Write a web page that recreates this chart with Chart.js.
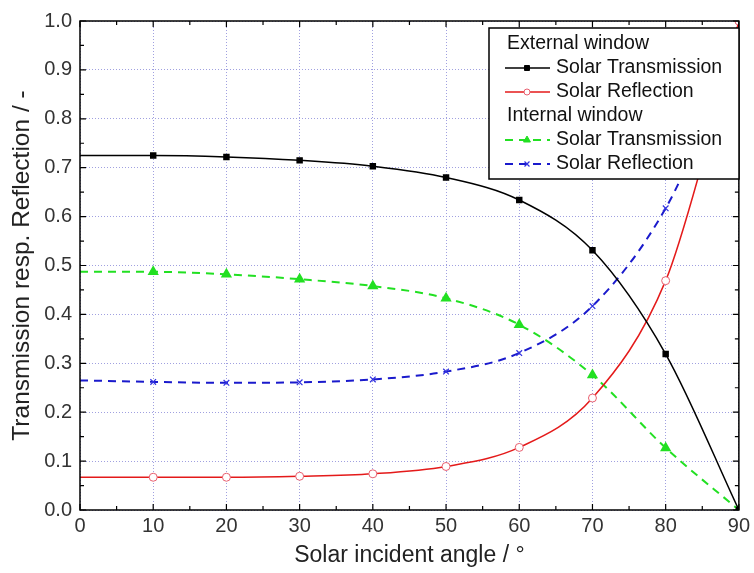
<!DOCTYPE html>
<html>
<head>
<meta charset="utf-8">
<script src="https://cdn.jsdelivr.net/npm/chart.js@4"></script>
<style>
    body { margin: 0; background: #fff; }
    #wrap { width: 754px; height: 573px; }
</style>
</head>
<body>
<div id="wrap"><canvas id="angleChart"></canvas></div>
<script>
const angles = [0, 10, 20, 30, 40, 50, 60, 70, 80, 90];
const anglesFine = [0, 10, 20, 30, 40, 50, 60, 70, 80, 85, 90];
const extTransmission = [0.725, 0.725, 0.722, 0.715, 0.703, 0.680, 0.634, 0.531, 0.319, 0.0];
const extReflection = [0.067, 0.067, 0.067, 0.069, 0.074, 0.089, 0.128, 0.229, 0.469, 0.71, 1.0];
const intTransmission = [0.487, 0.487, 0.482, 0.472, 0.458, 0.433, 0.379, 0.276, 0.127, 0.0];
const intReflection = [0.265, 0.262, 0.260, 0.261, 0.267, 0.283, 0.321, 0.417, 0.617, 0.78, 0.99];
const legendGroups = ["External window", "Internal window"];

const ctx = document.getElementById("angleChart");
const fontFamily = "'Liberation Sans', Arial, sans-serif";

function toPoints(xs, ys) {
    return xs.map((x, i) => ({ x: x, y: ys[i] }));
}

// markers only every 10 degrees, none on the axis at 0
function radii(xs, r) {
    return xs.map((x) => (x === 0 || x % 10 !== 0) ? 0 : r);
}

const frameAndLegend = {
    id: "frameAndLegend",
    afterDatasetsDraw(chart) {
        const c = chart.ctx;
        const a = chart.chartArea;
        const xs = chart.scales.x;
        const ys = chart.scales.y;
        c.save();
        c.strokeStyle = "#000";
        c.lineWidth = 1.5;
        c.strokeRect(a.left, a.top, a.right - a.left, a.bottom - a.top);

        // inward ticks, major and minor
        c.lineWidth = 1.2;
        c.beginPath();
        for (let v = 0; v <= 90; v += 5) {
            const px = xs.getPixelForValue(v);
            const len = v % 10 === 0 ? 6 : 4;
            c.moveTo(px, a.bottom); c.lineTo(px, a.bottom - len);
            c.moveTo(px, a.top); c.lineTo(px, a.top + len);
        }
        for (let i = 0; i <= 20; i++) {
            const py = ys.getPixelForValue(i * 0.05);
            const len = i % 2 === 0 ? 6 : 4;
            c.moveTo(a.left, py); c.lineTo(a.left + len, py);
            c.moveTo(a.right, py); c.lineTo(a.right - len, py);
        }
        c.stroke();

        // legend box
        const bx = 489, by = 28, bw = 250, bh = 151;
        c.fillStyle = "#fff";
        c.fillRect(bx, by, bw, bh);
        c.lineWidth = 1.5;
        c.strokeRect(bx, by, bw, bh);
        c.font = "19.5px " + fontFamily;
        c.textBaseline = "middle";
        const rows = [
            { head: legendGroups[0], y: 44 },
            { ds: 0, y: 68 },
            { ds: 1, y: 92 },
            { head: legendGroups[1], y: 116 },
            { ds: 2, y: 140 },
            { ds: 3, y: 164 }
        ];
        rows.forEach((r) => {
            if (r.head) {
                c.fillStyle = "#111";
                c.fillText(r.head, 507, r.y);
                return;
            }
            const d = chart.data.datasets[r.ds];
            c.strokeStyle = d.borderColor;
            c.lineWidth = d.borderWidth;
            c.setLineDash(d.borderDash || []);
            c.beginPath();
            c.moveTo(505, r.y);
            c.lineTo(550, r.y);
            c.stroke();
            c.setLineDash([]);
            c.fillStyle = d.pointBackgroundColor;
            c.strokeStyle = d.pointBorderColor || d.borderColor;
            c.lineWidth = d.pointBorderWidth || 1;
            Chart.helpers.drawPoint(c, {
                pointStyle: d.pointStyle,
                radius: d.legendRadius,
                borderWidth: d.pointBorderWidth || 1
            }, 527, r.y);
            c.fillStyle = "#111";
            c.fillText(d.label, 556, r.y);
        });
        c.restore();
    }
};

new Chart(ctx, {
    type: "line",
    data: {
        datasets: [
            {
                label: "Solar Transmission",
                data: toPoints(angles, extTransmission),
                borderColor: "#000000",
                backgroundColor: "#000000",
                borderWidth: 1.5,
                pointStyle: "rect",
                pointRadius: radii(angles, 3.5),
                pointBackgroundColor: "#000000",
                pointBorderColor: "#000000",
                legendRadius: 3.5,
                cubicInterpolationMode: "monotone",
            },
            {
                label: "Solar Reflection",
                data: toPoints(anglesFine, extReflection),
                borderColor: "#e41a1a",
                backgroundColor: "#ffffff",
                borderWidth: 1.5,
                pointStyle: "circle",
                pointRadius: radii(anglesFine, 4),
                pointBackgroundColor: "#ffffff",
                pointBorderColor: "#e86070",
                pointBorderWidth: 1,
                legendRadius: 3,
                cubicInterpolationMode: "monotone",
            },
            {
                label: "Solar Transmission",
                data: toPoints(angles, intTransmission),
                borderColor: "#22e022",
                backgroundColor: "#22e022",
                borderWidth: 2,
                borderDash: [8, 6],
                pointStyle: "triangle",
                pointRadius: radii(angles, 4.5),
                pointBackgroundColor: "#22e022",
                pointBorderColor: "#22e022",
                legendRadius: 4,
                cubicInterpolationMode: "monotone",
            },
            {
                label: "Solar Reflection",
                data: toPoints(anglesFine, intReflection),
                borderColor: "#1a1acc",
                backgroundColor: "#1a1acc",
                borderWidth: 2,
                borderDash: [8, 6],
                pointStyle: "crossRot",
                pointRadius: radii(anglesFine, 4),
                pointBackgroundColor: "#1a1acc",
                pointBorderColor: "#3030e0",
                pointBorderWidth: 1.2,
                legendRadius: 3.5,
                cubicInterpolationMode: "monotone",
            },
        ],
    },
    options: {
        responsive: true,
        maintainAspectRatio: false,
        animation: false,
        layout: { padding: { top: 21, right: 12, left: 0, bottom: 0 } },
        plugins: {
            legend: { display: false },
            tooltip: { enabled: false },
        },
        scales: {
            x: {
                type: "linear",
                min: 0,
                max: 90,
                afterFit: (s) => { s.height = 63; },
                ticks: {
                    stepSize: 10,
                    color: "#333",
                    padding: 4,
                    font: { family: fontFamily, size: 20 },
                },
                grid: { color: "#a0a0e0", lineWidth: 1, drawTicks: false },
                border: { display: false, dash: [1, 2] },
                title: {
                    display: true,
                    text: "Solar incident angle / °",
                    color: "#222",
                    padding: { top: 2, bottom: 4 },
                    font: { family: fontFamily, size: 23 },
                },
            },
            y: {
                min: 0,
                max: 1,
                afterFit: (s) => { s.width = 80; },
                ticks: {
                    stepSize: 0.1,
                    color: "#333",
                    padding: 8,
                    callback: (v) => v.toFixed(1),
                    font: { family: fontFamily, size: 20 },
                },
                grid: { color: "#a0a0e0", lineWidth: 1, drawTicks: false },
                border: { display: false, dash: [1, 2] },
                title: {
                    display: true,
                    text: "Transmission resp. Reflection / -",
                    color: "#222",
                    padding: { top: 8, bottom: 4 },
                    font: { family: fontFamily, size: 24.5 },
                },
            },
        },
    },
    plugins: [frameAndLegend],
});
</script>
</body>
</html>
